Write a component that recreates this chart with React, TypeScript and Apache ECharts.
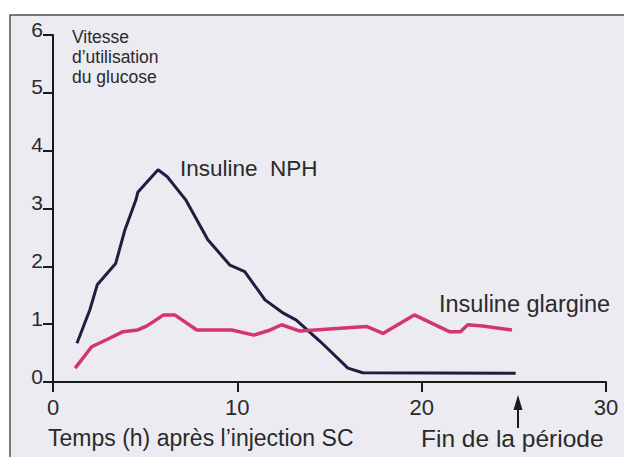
import React, { useEffect, useRef } from "react";
import * as echarts from "echarts";

// Temps (h) après l'injection SC, vitesse d'utilisation du glucose
const nphTimes = [1.3, 2.0, 2.4, 3.4, 3.9, 4.5, 4.6, 5.7, 6.2, 7.2, 8.4, 9.6, 10.4, 11.5, 12.5, 13.2, 14.5, 16.0, 16.8, 25.1];
const nphValues = [0.67, 1.25, 1.68, 2.05, 2.63, 3.15, 3.28, 3.67, 3.55, 3.15, 2.46, 2.02, 1.91, 1.42, 1.19, 1.07, 0.7, 0.24, 0.16, 0.15];

const glargineTimes = [1.2, 2.1, 2.9, 3.8, 4.6, 5.1, 6.0, 6.6, 7.8, 9.7, 10.9, 11.7, 12.4, 13.4, 17.0, 17.9, 19.6, 21.5, 22.1, 22.5, 23.3, 24.9];
const glargineValues = [0.24, 0.61, 0.73, 0.87, 0.9, 0.97, 1.16, 1.16, 0.9, 0.9, 0.81, 0.89, 0.99, 0.88, 0.96, 0.84, 1.16, 0.87, 0.87, 0.99, 0.97, 0.9];

const xTicks = [0, 10, 20, 30];
const yTicks = [0, 1, 2, 3, 4, 5, 6];

const yTitleLines = ["Vitesse", "d\u2019utilisation", "du glucose"];
const xTitle = "Temps (h) apr\u00e8s l\u2019injection SC";
const endLabel = "Fin de la p\u00e9riode";
const nphLabel = "Insuline  NPH";
const glargineLabel = "Insuline glargine";

const FONT = "'Liberation Sans', Arial, Helvetica, sans-serif";
const TEXT = "#2a2a2a";

export default function App() {
  const ref = useRef<HTMLDivElement>(null);

  useEffect(() => {
    if (!ref.current) return;
    const chart = echarts.init(ref.current, undefined, { renderer: "svg" });

    const nphData = nphTimes.map((t, i) => [t, nphValues[i]]);
    const glargineData = glargineTimes.map((t, i) => [t, glargineValues[i]]);

    const axisLine = { show: true, lineStyle: { color: "#1a1a1a", width: 2 } };

    chart.setOption({
      animation: false,
      backgroundColor: "#ffffff",
      grid: { left: 53, right: 18, top: 35, bottom: 75, containLabel: false },
      xAxis: {
        type: "value",
        min: xTicks[0],
        max: xTicks[xTicks.length - 1],
        interval: 10,
        axisLine,
        axisTick: { show: true, length: 10, lineStyle: { color: "#1a1a1a", width: 2 } },
        axisLabel: {
          margin: 14,
          fontSize: 22,
          fontFamily: FONT,
          color: TEXT,
          lineHeight: 22,
        },
        splitLine: { show: false },
      },
      yAxis: {
        type: "value",
        min: yTicks[0],
        max: yTicks[yTicks.length - 1],
        interval: 1,
        axisLine,
        axisTick: { show: true, length: 10, lineStyle: { color: "#1a1a1a", width: 2 } },
        axisLabel: {
          margin: 10,
          fontSize: 21,
          fontFamily: FONT,
          color: TEXT,
          verticalAlign: "bottom",
          lineHeight: 12,
        },
        splitLine: { show: false },
      },
      series: [
        {
          name: "Insuline NPH",
          type: "line",
          data: nphData,
          showSymbol: false,
          symbol: "none",
          lineStyle: { color: "#241b40", width: 3 },
          z: 3,
        },
        {
          name: "Insuline glargine",
          type: "line",
          data: glargineData,
          showSymbol: false,
          symbol: "none",
          lineStyle: { color: "#d3356f", width: 3.5 },
          z: 4,
        },
      ],
      graphic: [
        {
          type: "rect",
          z: -10,
          shape: { x: 10, y: 15, width: 700, height: 600 },
          style: { fill: "#ecebf1", stroke: "#505050", lineWidth: 1.5 },
          silent: true,
        },
        {
          type: "text",
          left: 72,
          top: 27,
          style: {
            text: yTitleLines.join("\n"),
            fontSize: 17.5,
            lineHeight: 20,
            fontFamily: FONT,
            fill: TEXT,
          },
        },
        {
          type: "text",
          x: 180,
          y: 168,
          style: {
            text: nphLabel,
            fontSize: 22.5,
            fontFamily: FONT,
            fill: TEXT,
            verticalAlign: "middle",
          },
        },
        {
          type: "text",
          x: 439,
          y: 304,
          style: {
            text: glargineLabel,
            fontSize: 23.5,
            fontFamily: FONT,
            fill: TEXT,
            verticalAlign: "middle",
          },
        },
        {
          type: "text",
          x: 48,
          y: 438,
          style: {
            text: xTitle,
            fontSize: 23,
            fontFamily: FONT,
            fill: TEXT,
            verticalAlign: "middle",
          },
        },
        {
          type: "text",
          x: 421,
          y: 438,
          style: {
            text: endLabel,
            fontSize: 24.5,
            fontFamily: FONT,
            fill: TEXT,
            verticalAlign: "middle",
          },
        },
        {
          type: "line",
          shape: { x1: 518, y1: 406, x2: 518, y2: 428 },
          style: { stroke: "#1a1a1a", lineWidth: 2 },
        },
        {
          type: "polygon",
          shape: { points: [[518, 395], [513.5, 410], [522.5, 410]] },
          style: { fill: "#1a1a1a" },
        },
      ],
    });

    return () => chart.dispose();
  }, []);

  return (
    <div
      ref={ref}
      style={{ position: "fixed", left: 0, top: 0, width: 624, height: 457, background: "#fff" }}
    />
  );
}
